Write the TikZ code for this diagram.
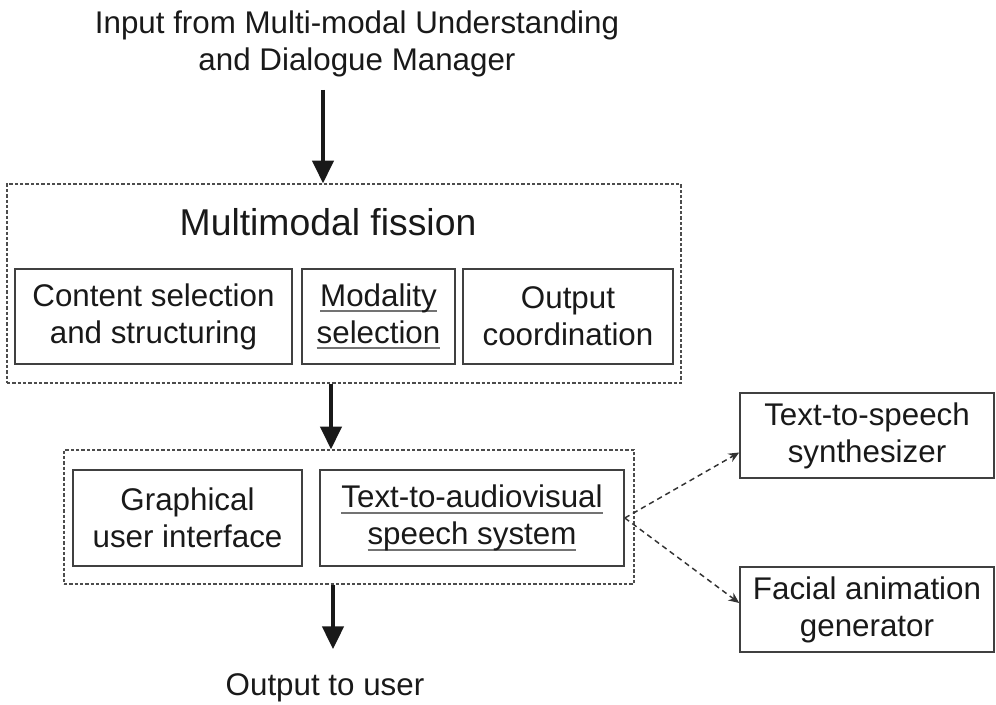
\documentclass[tikz,border=0pt]{standalone}
\usepackage{fontspec}
\setmainfont{Liberation Sans}
\usetikzlibrary{arrows.meta,fit,calc}
% grey underline drawn under a word group
\newcommand\ulgray[1]{\leavevmode\setbox0\hbox{#1}\rlap{\color{black!55}\rule[-0.2em]{\wd0}{0.07em}}\box0}
\begin{document}
\begin{tikzpicture}[x=0.75pt,y=-0.75pt,
  every node/.style={font=\fontsize{23.5}{27.75}\selectfont, text=black!90},
  blk/.style={draw=black!75, line width=1.2pt, inner sep=0pt, align=center},
  grp/.style={draw=black!70, line width=1.1pt, dash pattern=on 2.4pt off 1.6pt, inner sep=0pt},
  flow/.style={line width=2.4pt, draw=black!90, -{Triangle[length=17pt,width=16pt]}},
  link/.style={line width=1.1pt, draw=black!80, dash pattern=on 4pt off 3pt, -{Stealth[length=8pt,width=7pt]}}]
\useasboundingbox (0,0) rectangle (996,705);

% input and output labels
\node[align=center] (in) at (357,44) {Input from Multi-modal Understanding\\and Dialogue Manager};
\node (out) at (325,688) {Output to user};

% multimodal fission group
\node[grp, fit={(7,184) (681,383)}] (fis) {};
\node[font=\fontsize{28}{32}\selectfont] (fistitle) at (328,222) {Multimodal fission};
\node[blk, minimum width=207.75pt, minimum height=71.25pt] (csel) at (153.5,316.5) {Content selection\\and structuring};
\node[blk, minimum width=114.75pt, minimum height=71.25pt] (msel) at (378.5,316.5) {\ulgray{Modality}\\\ulgray{selection}};
\node[blk, minimum width=157.5pt, minimum height=71.25pt] (ocoord) at (568,316.5) {Output\\coordination};

% rendering group
\node[grp, fit={(64,450) (634,584)}] (rend) {};
\node[blk, minimum width=171.75pt, minimum height=72pt] (gui) at (187.5,518) {\raisebox{-2pt}{Graphical}\\\raisebox{-2pt}{user interface}};
\node[blk, minimum width=228pt, minimum height=72pt] (tav) at (472,518) {\ulgray{Text-to-audiovisual}\\\ulgray{speech system}};

% external synthesis modules
\node[blk, minimum width=190.5pt, minimum height=63.75pt] (tts) at (867,435.5) {Text-to-speech\\synthesizer};
\node[blk, minimum width=190.5pt, minimum height=63.75pt] (face) at (867,609.5) {Facial animation\\generator};

% main flow
\coordinate (a1) at (323,0);
\coordinate (a2) at (331,0);
\coordinate (a3) at (333,0);
\draw[flow, shorten <=6pt] (in.south -| a1) -- (fis.north -| a1);
\draw[flow] (fis.south -| a2) -- (rend.north -| a2);
\draw[flow, shorten >=15pt] (rend.south -| a3) -- (out.north -| a3);

% dashed links to the synthesis modules
\draw[link] (tav.east) -- ([yshift=-12.75pt]tts.west);
\draw[link] (tav.east) -- ([yshift=4.9pt]face.west);
\end{tikzpicture}
\end{document}
